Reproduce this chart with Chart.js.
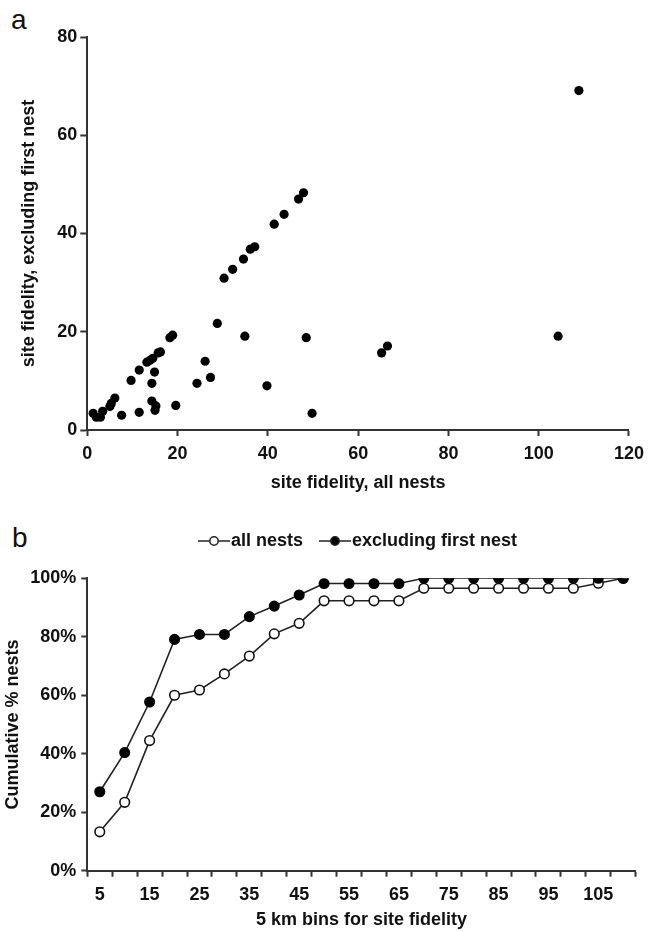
<!DOCTYPE html>
<html><head><meta charset="utf-8">
<script src="https://cdn.jsdelivr.net/npm/chart.js@4.4.1/dist/chart.umd.min.js"></script>
<style>
html,body{margin:0;padding:0;background:#fff;width:651px;height:932px;overflow:hidden;position:relative;}
canvas{position:absolute;left:0;}
#ca{top:0;} #cb{top:500px;}
.panel{position:absolute;font-family:'Liberation Sans',Arial,sans-serif;font-size:28px;line-height:28px;color:#111;}
</style></head><body>
<div class="panel" style="left:11px;top:6px">a</div>
<div class="panel" style="left:12px;top:524px">b</div>
<canvas id="ca" width="651" height="495"></canvas>
<canvas id="cb" width="651" height="432"></canvas>
<script>
// ---- panel a: site fidelity (km) ----
const siteFidelityAll = [1.3, 2.0, 2.9, 3.4, 5.0, 5.3, 6.1, 7.6, 9.7, 11.5, 11.5, 13.2, 13.9, 14.5, 14.3, 14.9, 14.3, 15.2, 15.0, 15.7, 16.2, 18.3, 18.9, 19.6, 24.3, 26.1, 27.3, 28.8, 30.3, 32.2, 34.6, 34.9, 36.1, 37.1, 39.8, 41.4, 43.6, 46.8, 47.9, 48.5, 49.8, 65.2, 66.5, 104.3, 108.9];
const siteFidelityExclFirst = [3.4, 2.6, 2.6, 3.8, 4.8, 5.4, 6.5, 3.0, 10.1, 12.2, 3.6, 13.8, 14.2, 14.6, 9.5, 11.8, 5.9, 4.9, 4.0, 15.7, 15.9, 18.8, 19.3, 5.0, 9.5, 14.0, 10.7, 21.7, 30.9, 32.7, 34.8, 19.1, 36.8, 37.3, 9.0, 41.9, 43.9, 47.0, 48.3, 18.8, 3.4, 15.7, 17.1, 19.1, 69.1];
const xTicksA = [0, 20, 40, 60, 80, 100, 120];
const yTicksA = [0, 20, 40, 60, 80];

// ---- panel b: cumulative % of nests per 5 km bin ----
const binLabels = ['5','10','15','20','25','30','35','40','45','50','55','60','65','70','75','80','85','90','95','100','105','110'];
const cumAllNests  = [13.3, 23.4, 44.5, 60.0, 61.8, 67.3, 73.4, 81.0, 84.6, 92.3, 92.3, 92.3, 92.3, 96.6, 96.6, 96.6, 96.6, 96.6, 96.6, 96.6, 98.3, 100];
const cumExclFirst = [27.0, 40.4, 57.7, 79.1, 80.8, 80.8, 86.9, 90.5, 94.3, 98.2, 98.2, 98.2, 98.2, 100, 100, 100, 100, 100, 100, 100, 100, 100];
const yTicksB = [0, 20, 40, 60, 80, 100];
const seriesNames = ['all nests', 'excluding first nest'];

const FAMILY = "'Liberation Sans', Arial, Helvetica, sans-serif";
Chart.defaults.font.family = FAMILY;
Chart.defaults.color = '#111';
const AX = '#333';
const tickFont = {size: 18, weight: 'bold', family: FAMILY};
const titleFont = {size: 18, weight: 'bold', family: FAMILY};

// ---------- chart a ----------
new Chart(document.getElementById('ca'), {
  type: 'scatter',
  data: { datasets: [{
    data: siteFidelityAll.map((x, i) => ({x: x, y: siteFidelityExclFirst[i]})),
    backgroundColor: '#000', borderWidth: 0, pointRadius: 4.6, pointHoverRadius: 4.6
  }]},
  options: {
    responsive: false, animation: false,
    layout: {padding: {top: 37, right: 15.3, left: 0, bottom: 0}},
    plugins: {legend: {display: false}, tooltip: {enabled: false}},
    scales: {
      x: {
        type: 'linear', min: xTicksA[0], max: xTicksA[xTicksA.length-1],
        afterBuildTicks: s => { s.ticks = xTicksA.map(v => ({value: v})); },
        afterFit: s => { s.height = 65; },
        ticks: {font: tickFont, color: '#111', padding: 7, maxRotation: 0},
        grid: {drawOnChartArea: false, drawTicks: true, tickLength: 6, tickColor: AX, tickWidth: 2},
        border: {color: AX, width: 2},
        title: {display: true, text: 'site fidelity, all nests', font: titleFont, color: '#111', padding: {top: 0, bottom: 1.5}}
      },
      y: {
        type: 'linear', min: yTicksA[0], max: yTicksA[yTicksA.length-1],
        afterBuildTicks: s => { s.ticks = yTicksA.map(v => ({value: v})); },
        afterFit: s => { s.width = 87.3; },
        ticks: {font: tickFont, color: '#111', padding: 3},
        grid: {drawOnChartArea: false, drawTicks: true, tickLength: 7, tickColor: AX, tickWidth: 2},
        border: {color: AX, width: 2},
        title: {display: true, text: 'site fidelity, excluding first nest', font: titleFont, color: '#111', padding: {top: 18, bottom: 0}}
      }
    }
  }
});

// ---------- chart b ----------
function legendSymbol(filled) {
  const c = document.createElement('canvas');
  c.width = 32; c.height = 12;
  const g = c.getContext('2d');
  g.strokeStyle = '#222'; g.lineWidth = 1.5;
  g.beginPath(); g.moveTo(0, 6); g.lineTo(32, 6); g.stroke();
  g.beginPath(); g.arc(16, 6, 4.2, 0, Math.PI * 2);
  g.fillStyle = filled ? '#000' : '#fff'; g.fill(); g.stroke();
  return c;
}
const symbols = {all: legendSymbol(false), excl: legendSymbol(true)};

const legendHeightPlugin = {
  id: 'legendHeight',
  beforeInit(chart) {
    const leg = chart.legend;
    if (!leg) return;
    const fit = leg.fit;
    leg.fit = function () { fit.call(this); this.height = 70.3; };
  }
};

new Chart(document.getElementById('cb'), {
  type: 'line',
  data: {
    labels: binLabels,
    datasets: [
      { label: seriesNames[1], data: cumExclFirst, borderColor: '#222', borderWidth: 1.6,
        pointRadius: 4.8, pointHoverRadius: 4.8, pointBackgroundColor: '#000', pointBorderColor: '#000', pointBorderWidth: 1.5, tension: 0 },
      { label: seriesNames[0], data: cumAllNests, borderColor: '#222', borderWidth: 1.6,
        pointRadius: 4.8, pointHoverRadius: 4.8, pointBackgroundColor: '#fff', pointBorderColor: '#111', pointBorderWidth: 1.6, tension: 0 }
    ]
  },
  plugins: [legendHeightPlugin],
  options: {
    responsive: false, animation: false,
    layout: {padding: {top: 8, right: 15.3, left: 0, bottom: 0}},
    plugins: {
      tooltip: {enabled: false},
      legend: {
        display: true, position: 'top', fullSize: false,
        labels: {
          usePointStyle: true, pointStyleWidth: 16, padding: 24, color: '#111',
          font: {size: 18, weight: 'bold', family: FAMILY},
          generateLabels: () => [
            {text: seriesNames[0], pointStyle: symbols.all, fillStyle: '#fff', strokeStyle: '#222', lineWidth: 0, datasetIndex: 1, fontColor: '#111'},
            {text: seriesNames[1], pointStyle: symbols.excl, fillStyle: '#000', strokeStyle: '#222', lineWidth: 0, datasetIndex: 0, fontColor: '#111'}
          ]
        }
      }
    },
    scales: {
      x: {
        type: 'category', offset: true,
        afterFit: s => { s.height = 61.3; },
        ticks: {font: tickFont, color: '#111', padding: 8, autoSkip: false, maxRotation: 0,
          callback: (v, i) => (i % 2 === 0 ? binLabels[i] : '')},
        grid: {offset: true, drawOnChartArea: false, drawTicks: true, tickLength: 6, tickColor: AX, tickWidth: 2},
        border: {color: AX, width: 2},
        title: {display: true, text: '5 km bins for site fidelity', font: titleFont, color: '#111', padding: {top: 0, bottom: 1.4}}
      },
      y: {
        type: 'linear', min: yTicksB[0], max: yTicksB[yTicksB.length-1],
        afterBuildTicks: s => { s.ticks = yTicksB.map(v => ({value: v})); },
        afterFit: s => { s.width = 87.3; },
        ticks: {font: tickFont, color: '#111', padding: 5, callback: v => v + '%'},
        grid: {drawOnChartArea: false, drawTicks: true, tickLength: 6, tickColor: AX, tickWidth: 2},
        border: {color: AX, width: 2},
        title: {display: true, text: 'Cumulative % nests', font: titleFont, color: '#111', padding: {top: 2, bottom: 0}}
      }
    }
  }
});
</script>
</body></html>
